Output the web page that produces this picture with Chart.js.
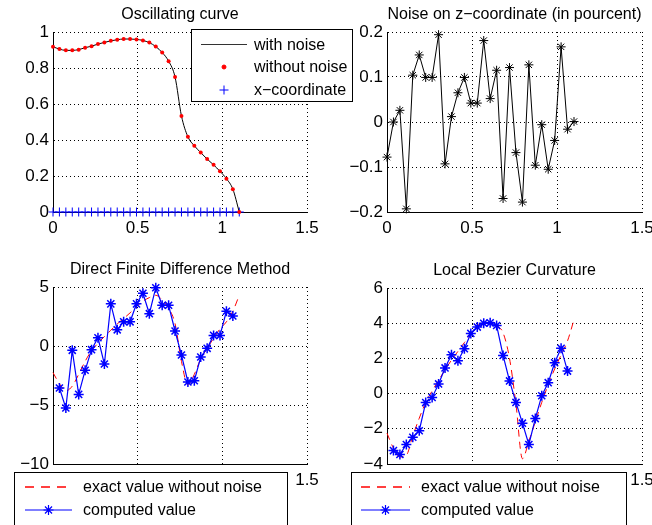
<!DOCTYPE html>
<html>
<head>
<meta charset="utf-8">
<script src="https://cdn.jsdelivr.net/npm/chart.js@4.4.0/dist/chart.umd.min.js"></script>
<style>
  body { margin: 0; background: #fff; }
  #wrap { position: relative; width: 652px; height: 525px; overflow: hidden; }
  #wrap canvas { position: absolute; left: 0; top: 0; }
</style>
</head>
<body>
<div id="wrap">
  <canvas id="c1" width="652" height="525"></canvas>
  <canvas id="c2" width="652" height="525"></canvas>
  <canvas id="c3" width="652" height="525"></canvas>
  <canvas id="c4" width="652" height="525"></canvas>
</div>
<script>
// sample positions along the curve (30 points from 0 to 1.1)
const xs = [0, 0.0379, 0.0759, 0.1138, 0.1517, 0.1897, 0.2276, 0.2655, 0.3034, 0.3414,
  0.3793, 0.4172, 0.4552, 0.4931, 0.5310, 0.5690, 0.6069, 0.6448, 0.6828, 0.7207,
  0.7586, 0.7966, 0.8345, 0.8724, 0.9103, 0.9483, 0.9862, 1.0241, 1.0621, 1.1];

// oscillating curve
const curve = [0.918, 0.905, 0.898, 0.898, 0.902, 0.913, 0.921, 0.933, 0.942, 0.951,
  0.957, 0.961, 0.961, 0.959, 0.953, 0.941, 0.919, 0.886, 0.838, 0.750,
  0.534, 0.418, 0.368, 0.330, 0.294, 0.262, 0.226, 0.185, 0.127, 0.0];

// noise on z (in pourcent)
const noise = [-0.078, 0.0, 0.026, -0.193, 0.104, 0.149, 0.099, 0.099, 0.194, -0.093,
  0.012, 0.065, 0.099, 0.042, 0.042, 0.181, 0.052, 0.115, -0.170, 0.121,
  -0.068, -0.178, 0.127, -0.096, -0.006, -0.105, -0.041, 0.167, -0.016, 0.001];

// direct finite difference
const exactFD = [-2.25, -3.2, -3.8, -3.4, -2.4, -1.3, -0.4, 0.23, 0.8, 1.33,
  1.87, 2.33, 2.81, 3.35, 3.8, 4.1, 4.3, 3.9, 3.2, 1.9,
  -1.3, -3.3, -2.4, -1.1, -0.2, 0.65, 1.45, 2.05, 2.95, 4.3];
const computedFD = [null, -3.56, -5.25, -0.37, -4.1, -2.06, -0.31, 0.7, -1.53, 3.57,
  1.37, 2.06, 2.05, 3.57, 4.47, 2.74, 4.94, 3.45, 3.45, 1.27,
  -0.76, -3.05, -2.94, -0.93, -0.2, 0.9, 0.9, 2.94, 2.54, null];

// local bezier curvature
const exactBZ = [-2.25, -3.1, -3.6, -3.5, -2.4, -1.4, -0.5, 0.15, 0.75, 1.35,
  1.9, 2.4, 2.9, 3.4, 3.85, 4.05, 4.0, 3.85, 3.45, 2.0,
  -0.6, -3.7, -2.7, -1.6, -0.5, 0.5, 1.4, 2.2, 3.0, 4.2];
const computedBZ = [null, -3.24, -3.46, -2.89, -2.48, -2.11, -0.51, -0.22, 0.55, 1.46,
  2.21, 1.86, 2.55, 3.42, 3.78, 4.0, 4.02, 3.87, 2.17, 0.72,
  -0.5, -1.68, -2.89, -1.42, -0.12, 0.62, 1.75, 2.58, 1.28, null];

const xTicks = [0, 0.5, 1, 1.5];

const FONT = "'Liberation Sans', Arial, Helvetica, sans-serif";
const RED = '#ff0000';
const BLUE = '#0000ff';

function pts(ys) {
  return xs.map((x, i) => ({ x: x, y: ys[i] }));
}

function fmt(v) {
  return String(Math.round(v * 100) / 100).replace('-', '\u2212');
}

function scales(yMin, yMax, yStep, yWidth) {
  const grid = { color: '#000', lineWidth: 1, drawTicks: false };
  const border = { display: true, color: '#000', width: 1, dash: [1, 3] };
  return {
    x: {
      type: 'linear', min: 0, max: 1.5,
      grid: grid, border: border,
      afterBuildTicks: s => { s.ticks = xTicks.map(v => ({ value: v })); },
      ticks: { padding: 6, color: '#000', font: { family: FONT, size: 17 }, callback: fmt, maxRotation: 0 },
      afterFit: s => { s.height = 25; s.paddingLeft = 0; s.paddingRight = 0; }
    },
    y: {
      type: 'linear', min: yMin, max: yMax,
      grid: grid, border: border,
      ticks: { stepSize: yStep, padding: 4, color: '#000', font: { family: FONT, size: 17 }, callback: fmt },
      afterFit: s => { s.width = yWidth; s.paddingTop = 0; s.paddingBottom = 0; }
    }
  };
}

// legend drawn as a box over the plot, like the matlab figure
function legendBox(id, box, items) {
  return {
    id: id,
    afterDraw(chart) {
      const ctx = chart.ctx;
      ctx.save();
      ctx.fillStyle = '#fff';
      ctx.fillRect(box.x, box.y, box.w, box.h);
      ctx.strokeStyle = '#000';
      ctx.lineWidth = 1;
      ctx.strokeRect(box.x + 0.5, box.y + 0.5, box.w, box.h);
      ctx.font = '16px ' + FONT;
      ctx.textBaseline = 'middle';
      items.forEach((it, i) => {
        const y = box.rows[i];
        if (it.line) {
          ctx.save();
          ctx.beginPath();
          ctx.setLineDash(it.dash || []);
          ctx.lineWidth = it.width || 1;
          ctx.strokeStyle = it.line;
          ctx.moveTo(box.sx1, y);
          ctx.lineTo(box.sx2, y);
          ctx.stroke();
          ctx.restore();
        }
        if (it.marker) {
          ctx.save();
          ctx.strokeStyle = it.marker.color;
          ctx.fillStyle = it.marker.color;
          ctx.lineWidth = it.marker.width || 1;
          Chart.helpers.drawPoint(ctx, { pointStyle: it.marker.style, radius: it.marker.radius, rotation: 0, borderWidth: ctx.lineWidth }, (box.sx1 + box.sx2) / 2, y);
          ctx.restore();
        }
        ctx.fillStyle = '#000';
        ctx.fillText(it.text, box.tx, y + 1);
      });
      ctx.restore();
    }
  };
}

function base(title, pad, yMin, yMax, yStep, yWidth) {
  return {
    responsive: false,
    animation: false,
    events: [],
    layout: { padding: pad },
    scales: scales(yMin, yMax, yStep, yWidth),
    plugins: {
      legend: { display: false },
      tooltip: { enabled: false },
      title: {
        display: true, text: title, color: '#000', fullSize: false,
        font: { family: FONT, size: 16, weight: 'normal', lineHeight: 1 },
        padding: { top: 3, bottom: 9 }
      }
    }
  };
}

window.addEventListener("DOMContentLoaded", function() {

  // Oscillating curve
  new Chart(document.getElementById('c1'), {
    type: 'line',
    data: {
      datasets: [
        { data: pts(curve), showLine: false, pointStyle: 'circle', pointRadius: 2,
          pointBackgroundColor: RED, pointBorderWidth: 0, clip: false },
        { data: pts(curve), borderColor: '#000', borderWidth: 1, pointRadius: 0,
          cubicInterpolationMode: 'monotone', clip: false },
        { data: xs.map(x => ({ x: x, y: 0 })), showLine: false, pointStyle: 'cross', pointRadius: 4.5,
          pointBorderColor: BLUE, pointBorderWidth: 1, clip: false }
      ]
    },
    options: base('Oscillating curve', { left: 0, right: 345, top: 4, bottom: 288 }, 0, 1, 0.2, 53),
    plugins: [legendBox('lg1', { x: 191, y: 29, w: 161, h: 72, rows: [44.5, 67, 90], sx1: 201, sx2: 247, tx: 254 }, [
      { text: 'with noise', line: '#333', width: 1 },
      { text: 'without noise', marker: { style: 'circle', radius: 2, color: RED } },
      { text: 'x\u2212coordinate', marker: { style: 'cross', radius: 4.5, color: BLUE } }
    ])]
  });

  // Noise on z
  new Chart(document.getElementById('c2'), {
    type: 'line',
    data: {
      datasets: [
        { data: pts(noise), borderColor: '#000', borderWidth: 1, pointStyle: 'star', pointRadius: 4.5,
          pointBorderColor: '#000', pointBorderWidth: 1, clip: false }
      ]
    },
    options: base('Noise on z\u2212coordinate (in pourcent)', { left: 327, right: 10, top: 4, bottom: 288 }, -0.2, 0.2, 0.1, 60)
  });

  // Direct Finite Difference Method
  new Chart(document.getElementById('c3'), {
    type: 'line',
    data: {
      datasets: [
        { data: pts(computedFD), borderColor: BLUE, borderWidth: 1.2, pointStyle: 'star', pointRadius: 5,
          pointBorderColor: BLUE, pointBorderWidth: 1.5, clip: false },
        { data: pts(exactFD), borderColor: RED, borderWidth: 1, borderDash: [7, 5], pointRadius: 0,
          cubicInterpolationMode: 'monotone', clip: false }
      ]
    },
    options: base('Direct Finite Difference Method', { left: 0, right: 345, top: 259, bottom: 36 }, -10, 5, 5, 53),
    plugins: [legendBox('lg3', { x: 14, y: 472, w: 273, h: 80, rows: [487, 510], sx1: 25, sx2: 72, tx: 83 }, [
      { text: 'exact value without noise', line: RED, dash: [9, 7], width: 1.3 },
      { text: 'computed value', line: BLUE, width: 1.2, marker: { style: 'star', radius: 5, color: BLUE, width: 1.2 } }
    ])]
  });

  // Local Bezier Curvature
  new Chart(document.getElementById('c4'), {
    type: 'line',
    data: {
      datasets: [
        { data: pts(computedBZ), borderColor: BLUE, borderWidth: 1.2, pointStyle: 'star', pointRadius: 5,
          pointBorderColor: BLUE, pointBorderWidth: 1.5, clip: false },
        { data: pts(exactBZ), borderColor: RED, borderWidth: 1, borderDash: [7, 5], pointRadius: 0,
          cubicInterpolationMode: 'monotone', clip: false }
      ]
    },
    options: base('Local Bezier Curvature', { left: 327, right: 10, top: 260, bottom: 36 }, -4, 6, 2, 60),
    plugins: [legendBox('lg4', { x: 351, y: 472, w: 275, h: 80, rows: [487, 510], sx1: 361, sx2: 410, tx: 421 }, [
      { text: 'exact value without noise', line: RED, dash: [9, 7], width: 1.3 },
      { text: 'computed value', line: BLUE, width: 1.2, marker: { style: 'star', radius: 5, color: BLUE, width: 1.2 } }
    ])]
  });
});
</script>
</body>
</html>
